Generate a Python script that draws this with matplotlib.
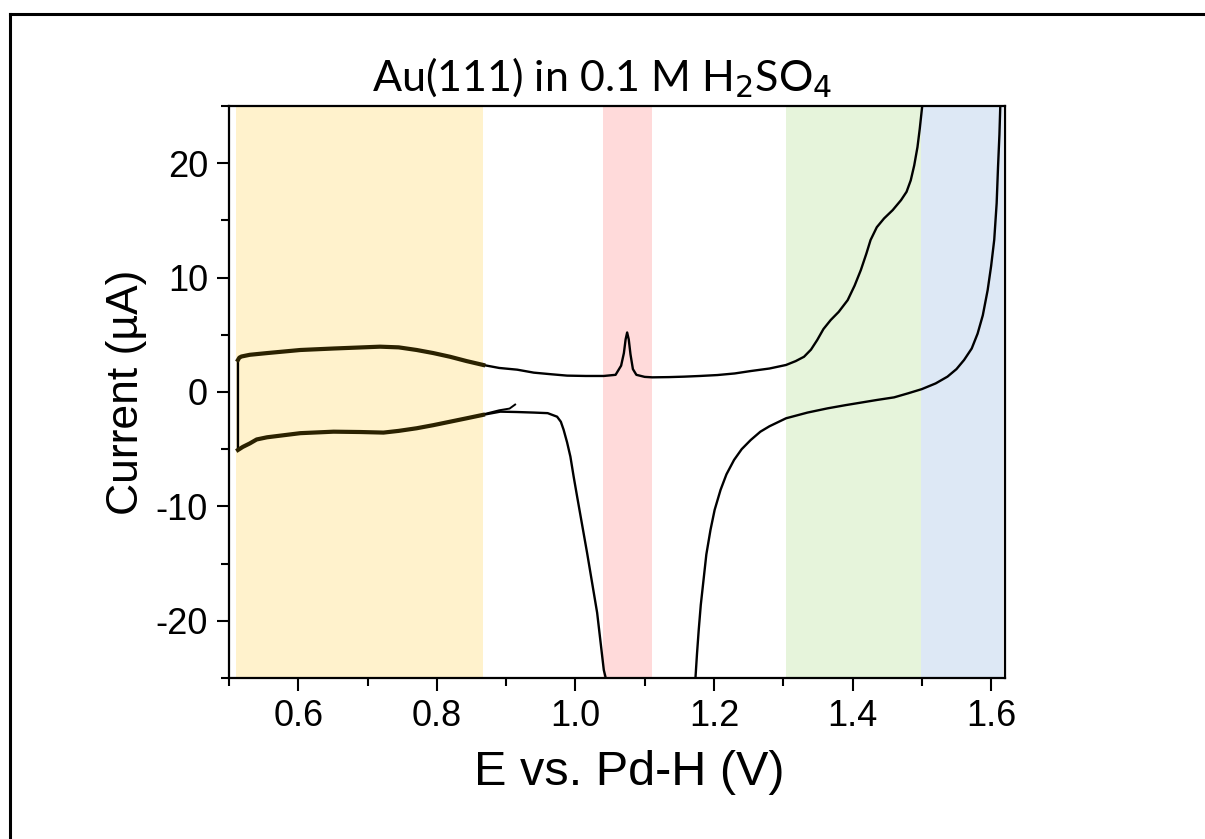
import numpy as np
import matplotlib
matplotlib.use("Agg")
import matplotlib.pyplot as plt
from matplotlib.lines import Line2D

plt.rcParams["axes.unicode_minus"] = False

# Au(111) cyclic voltammogram, 0.1 M H2SO4
# positive-going sweep (E in V vs Pd-H, I in uA)
E_fwd = [0.513, 0.513, 0.515, 0.518, 0.530, 0.555, 0.603, 0.651, 0.718, 0.745,
         0.771, 0.795, 0.819, 0.843, 0.867, 0.890, 0.916, 0.940, 0.965, 0.988,
         1.015, 1.041, 1.058, 1.066, 1.070, 1.0725, 1.0747, 1.077, 1.0795, 1.083,
         1.088, 1.100, 1.111, 1.135, 1.157, 1.180, 1.205, 1.230, 1.253, 1.280,
         1.304, 1.318, 1.330, 1.340, 1.349, 1.358, 1.3685, 1.380, 1.393, 1.403,
         1.412, 1.420, 1.426, 1.435, 1.4455, 1.458, 1.470, 1.478, 1.484, 1.489,
         1.4937, 1.497, 1.5004, 1.502]
I_fwd = [-5.0, 2.8, 3.0, 3.1, 3.25, 3.4, 3.67, 3.8, 3.96, 3.9,
         3.67, 3.4, 3.08, 2.7, 2.36, 2.1, 1.95, 1.69, 1.55, 1.43,
         1.40, 1.40, 1.50, 2.3, 3.4, 4.6, 5.2, 4.6, 3.3, 2.0,
         1.5, 1.32, 1.28, 1.30, 1.34, 1.40, 1.48, 1.62, 1.83, 2.05,
         2.36, 2.7, 3.08, 3.7, 4.54, 5.5, 6.29, 7.0, 8.03, 9.3,
         10.66, 12.1, 13.28, 14.4, 15.17, 15.9, 16.77, 17.5, 18.5, 19.8,
         21.4, 23.0, 24.9, 27.0]

# negative-going sweep
E_rev = [1.6125, 1.6132, 1.612, 1.610, 1.608, 1.6045, 1.600, 1.595, 1.588, 1.5805,
         1.572, 1.561, 1.550, 1.537, 1.520, 1.500, 1.480, 1.460, 1.435, 1.412,
         1.390, 1.364, 1.335, 1.304, 1.280, 1.267, 1.253, 1.240, 1.229, 1.218,
         1.2095, 1.201, 1.195, 1.189, 1.185, 1.181, 1.178, 1.1755, 1.1734, 1.173,
         1.044, 1.0434, 1.041, 1.0314, 1.017, 1.0025, 0.9975, 0.9928, 0.988, 0.983,
         0.979, 0.9736, 0.960, 0.940, 0.915, 0.8916, 0.8666, 0.843, 0.819, 0.795,
         0.771, 0.745, 0.723, 0.690, 0.651, 0.603, 0.555, 0.540, 0.530, 0.520,
         0.513]
I_rev = [27.0, 24.9, 22.5, 19.7, 16.5, 13.3, 11.0, 8.9, 6.7, 5.1,
         3.8, 2.8, 2.0, 1.34, 0.75, 0.25, -0.12, -0.47, -0.7, -0.93,
         -1.15, -1.43, -1.8, -2.3, -3.0, -3.47, -4.2, -5.0, -5.94, -7.2,
         -8.56, -10.3, -12.05, -14.2, -16.4, -18.6, -20.8, -22.9, -24.9, -27.0,
         -27.0, -24.9, -24.3, -19.3, -14.1, -9.14, -7.4, -5.65, -4.4, -3.3,
         -2.6, -2.16, -1.85, -1.8, -1.75, -1.72, -2.0, -2.3, -2.6, -2.9,
         -3.17, -3.4, -3.55, -3.5, -3.47, -3.6, -3.96, -4.15, -4.5, -4.8,
         -5.07]

# start of the scan
E_start = [0.867, 0.890, 0.905, 0.913]
I_start = [-1.95, -1.6, -1.45, -1.1]

# shaded potential windows
bands = [(0.51, 0.866), (1.04, 1.111), (1.304, 1.499), (1.499, 1.617)]
band_colors = ["#FFF2CC", "#FFDADA", "#E6F4DB", "#DDE8F5"]

fig = plt.figure(figsize=(12.05, 8.39), dpi=100)
ax = fig.add_axes([0.190, 0.1919, 0.644, 0.6818])

for (a, b), c in zip(bands, band_colors):
    ax.axvspan(a, b, ymin=0, ymax=1, color=c, lw=0, zorder=0)

ax.plot(E_fwd, I_fwd, color="black", lw=1.7, zorder=3)
ax.plot(E_rev, I_rev, color="black", lw=1.7, zorder=3)
ax.plot(E_start, I_start, color="black", lw=1.4, zorder=3)
# noisy double-layer region looks heavier
ax.plot(E_fwd[1:15], I_fwd[1:15], color="#2b2200", lw=3.0, zorder=3)
ax.plot(E_rev[-15:], I_rev[-15:], color="#2b2200", lw=3.0, zorder=3)

ax.set_xlim(0.5, 1.62)
ax.set_ylim(-25, 25)
ax.set_xticks([0.6, 0.8, 1.0, 1.2, 1.4, 1.6])
ax.set_xticks(np.arange(0.5, 1.61, 0.1), minor=True)
ax.set_yticks([-20, -10, 0, 10, 20])
ax.set_yticks([-25, -15, -5, 5, 15, 25], minor=True)

ax.tick_params(which="major", direction="out", length=9, width=1.5,
               labelsize=26, pad=6, labelfontfamily="Liberation Sans")
ax.tick_params(which="minor", direction="out", length=5.5, width=1.5)
for s in ax.spines.values():
    s.set_linewidth(1.6)

ax.set_xlabel("E vs. Pd-H (V)", fontsize=35, family="Liberation Sans", labelpad=12)
ax.xaxis.label.set_x(0.516)
ax.set_ylabel("Current (\u00b5A)", fontsize=32, family="Liberation Sans", labelpad=6)

fig.text(0.5, 0.892, r"Au(111) in 0.1 M H$_2$SO$_4$", ha="center", va="baseline",
         fontsize=31, family="Lato")

# outer frame lines
fig.add_artist(Line2D([10 / 1205, 10 / 1205], [0, 1 - 14 / 839],
                      transform=fig.transFigure, color="black", lw=2.2))
fig.add_artist(Line2D([10 / 1205, 1], [1 - 14 / 839, 1 - 14 / 839],
                      transform=fig.transFigure, color="black", lw=2.2))

fig.savefig("out.png", dpi=100)
